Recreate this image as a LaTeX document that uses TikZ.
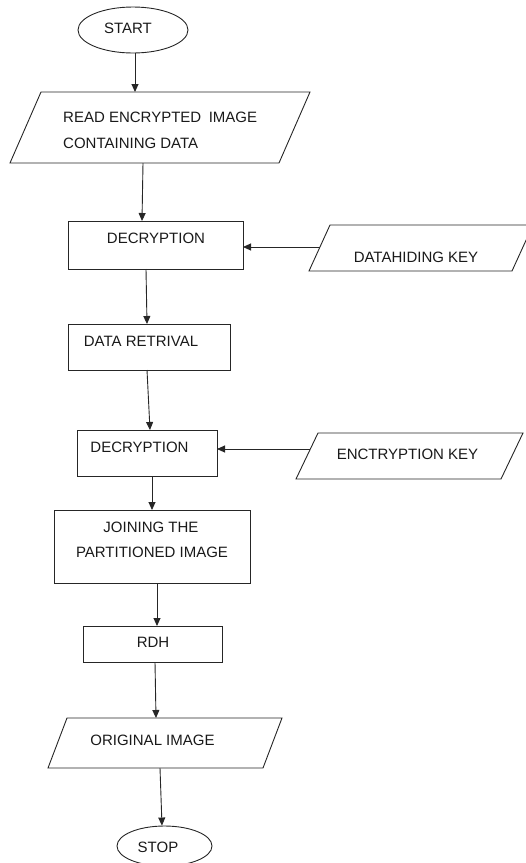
\documentclass[tikz,border=0pt]{standalone}
\usepackage{fontspec}
\setmainfont{Liberation Sans}
\usetikzlibrary{shapes.geometric,arrows.meta,calc}

\tikzset{
  blank/.style={draw=none,inner sep=0pt,outer sep=0pt},
  outline/.style={draw=black!85,line width=0.9pt},
  txt/.style={inner sep=0pt,font=\fontsize{15}{18}\selectfont,text=black!90},
  arr/.style={draw=black!85,line width=0.9pt,-{Triangle[length=8pt,width=7pt]}},
  term/.style={ellipse,draw=black!85,line width=0.9pt,inner sep=0pt}
}

% draws a parallelogram over a node: top edge pushed right by #2
\newcommand{\ioframe}[2]{%
  \draw[outline] ([xshift=#2]#1.north west) -- (#1.north east)
     -- ([xshift=-#2]#1.south east) -- (#1.south west) -- cycle;}

\begin{document}
\begin{tikzpicture}[x=1pt,y=-1pt]
\useasboundingbox (0,0) rectangle (526,863);

% terminals
\node[term,minimum width=110pt,minimum height=46pt] (start) at (133,30) {};
\node[txt] (tstart) at (128,28) {START};

\node[term,minimum width=95pt,minimum height=40pt] (stop) at (164.5,846) {};
\node[txt] (tstop) at (158,847) {STOP};

% input / output parallelograms
\node[blank,minimum width=300pt,minimum height=71pt] (read) at (160,127.5) {};
\ioframe{read}{31pt}
\node[txt,anchor=west] (tread1) at (63,117) {READ ENCRYPTED\hspace{0.5em}IMAGE};
\node[txt,anchor=west] (tread2) at (63,143) {CONTAINING DATA};

\node[blank,minimum width=224pt,minimum height=46pt] (dhkey) at (421,248) {};
\ioframe{dhkey}{21pt}
\node[txt] (tdhkey) at (416,257) {DATAHIDING KEY};

\node[blank,minimum width=227pt,minimum height=46pt] (enkey) at (409.5,456) {};
\ioframe{enkey}{22pt}
\node[txt] (tenkey) at (407.5,454) {ENCTRYPTION KEY};

\node[blank,minimum width=234pt,minimum height=50pt] (orig) at (165,743) {};
\ioframe{orig}{19pt}
\node[txt] (torig) at (152.5,740) {ORIGINAL IMAGE};

% process boxes
\node[blank,outline,minimum width=175pt,minimum height=48pt] (dec1) at (155.5,245) {};
\node[txt] (tdec1) at (156,238) {DECRYPTION};

\node[blank,outline,minimum width=162pt,minimum height=46pt] (dr) at (149,347) {};
\node[txt] (tdr) at (141,341) {DATA RETRIVAL};

\node[blank,outline,minimum width=140pt,minimum height=46pt] (dec2) at (147,453) {};
\node[txt] (tdec2) at (139.5,447) {DECRYPTION};

\node[blank,outline,minimum width=196pt,minimum height=73pt] (join) at (152,546.5) {};
\node[txt] (tjoin1) at (151,527) {JOINING THE};
\node[txt] (tjoin2) at (152,552) {PARTITIONED IMAGE};

\node[blank,outline,minimum width=139pt,minimum height=36pt] (rdh) at (152.5,644) {};
\node[txt] (trdh) at (153,642) {RDH};

% connectors
\draw[arr] ([xshift=2pt]start.south) -- ([xshift=-25pt]read.north);
\draw[arr] ([xshift=-17pt]read.south) -- ([xshift=-13.5pt]dec1.north);
\draw[arr] ([xshift=11pt,yshift=1pt]dhkey.west) -- ([yshift=-2pt]dec1.east);
\draw[arr] ([xshift=-9.5pt]dec1.south) -- ([xshift=-2pt]dr.north);
\draw[arr] ([xshift=-2pt]dr.south) -- ([xshift=3pt]dec2.north);
\draw[arr] ([xshift=14pt,yshift=7pt]enkey.west) -- ([yshift=4pt]dec2.east);
\draw[arr] ([xshift=5pt]dec2.south) -- (join.north);
\draw[arr] ([xshift=5pt]join.south) -- ([xshift=4.5pt]rdh.north);
\draw[arr] ([xshift=2.5pt]rdh.south) -- ([xshift=-9pt]orig.north);
\draw[arr] ([xshift=-5pt]orig.south) -- ([xshift=-2.5pt]stop.north);
\end{tikzpicture}
\end{document}
